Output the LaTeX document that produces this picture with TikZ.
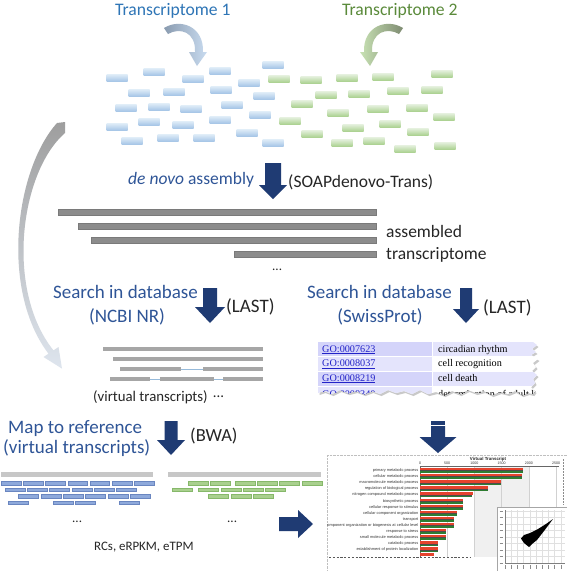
\documentclass[tikz,border=0pt]{standalone}
\usepackage{fontspec}
\setmainfont{Carlito}
\newfontfamily\gofont{Liberation Serif}
\newfontfamily\chartfont{Liberation Sans}
\definecolor{navy}{HTML}{1F3B73}
\definecolor{stepblue}{HTML}{2F5597}
\definecolor{tblue}{HTML}{2E75B6}
\definecolor{tgreen}{HTML}{5A8A3A}
\definecolor{txt}{HTML}{262626}
\definecolor{golink}{HTML}{2323C8}
\definecolor{lavA}{HTML}{D4D4FA}
\definecolor{lavB}{HTML}{E4E4FC}
\definecolor{barred}{HTML}{E5432D}
\definecolor{bargreen}{HTML}{2E7D32}
\definecolor{rbtop}{HTML}{DDEBF7}
\definecolor{rbbot}{HTML}{A4C4E6}
\definecolor{rgtop}{HTML}{E2EFDA}
\definecolor{rgbot}{HTML}{A9D08E}
\definecolor{mbfill}{HTML}{8EA9DB}
\definecolor{mbdraw}{HTML}{6A86C0}
\definecolor{mgfill}{HTML}{A9D08E}
\definecolor{mgdraw}{HTML}{86B86A}
\definecolor{arAtail}{HTML}{8A9BB0}
\definecolor{arAhead}{HTML}{C9DCF0}
\definecolor{arBtail}{HTML}{7F8C72}
\definecolor{arBhead}{HTML}{C8E2B4}
\definecolor{bigtop}{HTML}{9E9E9E}
\definecolor{bigbot}{HTML}{DEE5EE}
\newcommand{\navydown}[6]{%
  \fill[navy] ({#1-#5},#2) -- ({#1+#5},#2) -- ({#1+#5},#3) -- ({#1+#6},#3)
     -- (#1,#4) -- ({#1-#6},#3) -- ({#1-#5},#3) -- cycle;}
\tikzset{
  lbl/.style={inner sep=0pt, anchor=base west, text=txt},
  steplbl/.style={inner sep=0pt, anchor=base west, text=stepblue, font=\fontsize{19}{22}\selectfont},
  readblue/.style={top color=rbtop, bottom color=rbbot},
  readgreen/.style={top color=rgtop, bottom color=rgbot},
  asmbar/.style={fill=black!45, draw=black!52, line width=0.3pt},
  vbar/.style={fill=black!35},
  vline/.style={draw=tblue!50, line width=0.8pt},
  mapblue/.style={fill=mbfill, draw=mbdraw, line width=0.4pt},
  mapgreen/.style={fill=mgfill, draw=mgdraw, line width=0.4pt},
  chartlbl/.style={inner sep=0pt, anchor=east, font=\chartfont\fontsize{3.9}{4.5}\selectfont, text=black!80},
}
\begin{document}
\begin{tikzpicture}[x=1pt,y=-1pt]
\useasboundingbox (0,0) rectangle (567,571);
\fill[white] (0,0) rectangle (567,571);

% ---------- titles ----------
\node[lbl, text=tblue, font=\fontsize{17.6}{20}\selectfont] (t1) at (115,15) {Transcriptome 1};
\node[lbl, text=tgreen, font=\fontsize{17.6}{20}\selectfont] (t2) at (342,15) {Transcriptome 2};

% curved arrows under titles
\shade[left color=arAtail, right color=arAhead]
  (164,28) .. controls (180,18) and (204,26) .. (203,52) -- (207,52) -- (197,66) -- (189,52) -- (195,52)
  .. controls (196,32) and (180,27) .. (168,34) -- cycle;
\shade[left color=arBhead, right color=arBtail]
  (403,28) .. controls (387,18) and (363,26) .. (364,52) -- (360,52) -- (370,66) -- (378,52) -- (372,52)
  .. controls (371,32) and (387,27) .. (399,34) -- cycle;

% reads
\foreach \x/\y in {117/78,154/72,193/79,220/71,273/65,249/83,139/93,174/92,221/90,264/96,126/108,159/107,191/109,232/105,260/115,117/127,149/122,183/125,220/120,247/133,132/141,168/138,204/138,273/143}
  \shade[readblue] (\x-10.5,\y-3.5) rectangle (\x+10.5,\y+3.5);
\foreach \x/\y in {279/79,311/80,347/78,383/77,442/74,326/95,359/94,398/91,432/90,302/104,338/113,378/109,417/108,444/117,290/121,353/128,390/124,418/132,312/134,342/143,374/141,405/149,445/146}
  \shade[readgreen] (\x-10.5,\y-3.5) rectangle (\x+10.5,\y+3.5);

% big left curved arrow
\shade[top color=bigtop, bottom color=bigbot]
  (57,123) .. controls (15,170) and (0,290) .. (48.5,353.7) -- (43.5,357) -- (62,368.6) -- (58.5,347) -- (53.5,350.4)
  .. controls (5,290) and (20,172) .. (65,133) -- (65,122) -- cycle;

% ---------- de novo assembly ----------
\node[lbl, text=stepblue, font=\fontsize{17.5}{20}\selectfont] (denovo) at (128,184) {\textit{de novo} assembly};
\navydown{273}{163}{185}{199}{8}{14}
\node[lbl, font=\fontsize{17.5}{20}\selectfont] (soap) at (288,187) {(SOAPdenovo-Trans)};

\draw[asmbar] (58,209) rectangle (376,215.5) (78,223) rectangle (376,229.5) (91,237) rectangle (376,243.5) (234,251) rectangle (376,257.5);
\node[lbl, font=\fontsize{13}{15}\selectfont] (dots1) at (272,270) {...};
\node[lbl, font=\fontsize{17.5}{20}\selectfont] (asm1) at (386,237) {assembled};
\node[lbl, font=\fontsize{17.5}{20}\selectfont] (asm2) at (386,259) {transcriptome};

% ---------- left search ----------
\node[steplbl] (sdb1) at (53,298) {Search in database};
\node[inner sep=0pt, anchor=base, text=stepblue, font=\fontsize{19}{22}\selectfont] (nr) at (127,322) {(NCBI NR)};
\navydown{210}{288}{307}{323}{7}{15}
\node[lbl, font=\fontsize{19}{22}\selectfont] (last1) at (226,312) {(LAST)};

\fill[vbar] (103,347) rectangle (263,351);
\fill[vbar] (113,357) rectangle (263,361);
\fill[vbar] (120,367) rectangle (181,371);
\fill[vbar] (203,367) rectangle (263,371);
\fill[vbar] (110,377) rectangle (150,381);
\fill[vbar] (160,377) rectangle (214,381);
\fill[vbar] (223,377) rectangle (263,381);
\draw[vline] (181,369) -- (203,369);
\draw[vline] (150,379) -- (160,379);
\draw[vline] (214,379) -- (223,379);
\node[lbl, font=\fontsize{14.8}{17}\selectfont] (vt) at (93,401) {(virtual transcripts)\hspace{0.35em}\raisebox{0.22em}{...}};

% ---------- right search ----------
\node[steplbl] (sdb2) at (307,298) {Search in database};
\node[inner sep=0pt, anchor=base, text=stepblue, font=\fontsize{19}{22}\selectfont] (sp) at (380,322) {(SwissProt)};
\navydown{466}{288}{309}{323}{6}{13}
\node[lbl, font=\fontsize{19}{22}\selectfont] (last2) at (483,313) {(LAST)};

% GO table: shadow
\begin{scope}[shift={(1.5,2)}]
\fill[black!35, opacity=0.6] (318,342) -- (533,342) -- (537,345) -- (532,349) -- (536,352) -- (531,355) -- (538,359) -- (533,363) -- (536,367) -- (532,371) -- (537,375) -- (533,379) -- (535,383) -- (531,387) -- (535,391) -- (533,394)
 -- (528,393) -- (522,395) -- (515,391) -- (508,394) -- (500,392) -- (492,395) -- (484,391) -- (476,393) -- (468,390) -- (460,394) -- (452,391) -- (444,395) -- (436,392) -- (428,394) -- (420,390) -- (412,394) -- (404,391) -- (396,393) -- (388,390) -- (380,394) -- (372,391) -- (364,394) -- (356,391) -- (348,393) -- (340,390) -- (332,394) -- (324,391) -- (318,393) -- cycle;
\end{scope}
\begin{scope}
\clip (318,342) -- (533,342) -- (537,345) -- (532,349) -- (536,352) -- (531,355) -- (538,359) -- (533,363) -- (536,367) -- (532,371) -- (537,375) -- (533,379) -- (535,383) -- (531,387) -- (535,391) -- (533,394)
 -- (528,393) -- (522,395) -- (515,391) -- (508,394) -- (500,392) -- (492,395) -- (484,391) -- (476,393) -- (468,390) -- (460,394) -- (452,391) -- (444,395) -- (436,392) -- (428,394) -- (420,390) -- (412,394) -- (404,391) -- (396,393) -- (388,390) -- (380,394) -- (372,391) -- (364,394) -- (356,391) -- (348,393) -- (340,390) -- (332,394) -- (324,391) -- (318,393) -- cycle;
\fill[white] (318,342) rectangle (540,400);
\fill[lavA] (318,342) rectangle (432,356.5);
\fill[lavB] (432,342) rectangle (540,356.5);
\fill[lavB] (318,356.5) rectangle (432,371);
\fill[lavA] (318,371) rectangle (432,386);
\fill[lavB] (432,371) rectangle (540,386);
\fill[lavB] (318,386) rectangle (432,400);
\draw[white, line width=0.8pt] (318,356.5) -- (540,356.5) (318,371) -- (540,371) (318,386) -- (540,386) (432,342) -- (432,400);
\node[inner sep=0pt, anchor=base west, text=golink, font=\gofont\fontsize{10.2}{12}\selectfont] (go1) at (322,352) {\underline{GO:0007623}};
\node[inner sep=0pt, anchor=base west, text=golink, font=\gofont\fontsize{10.2}{12}\selectfont] (go2) at (322,366.5) {\underline{GO:0008037}};
\node[inner sep=0pt, anchor=base west, text=golink, font=\gofont\fontsize{10.2}{12}\selectfont] (go3) at (322,381) {\underline{GO:0008219}};
\node[inner sep=0pt, anchor=base west, text=golink, font=\gofont\fontsize{10.2}{12}\selectfont] (go4) at (322,397) {\underline{GO:0008340}};
\node[inner sep=0pt, anchor=base west, text=black, font=\gofont\fontsize{10.2}{12}\selectfont] (gt1) at (438,352) {circadian rhythm};
\node[inner sep=0pt, anchor=base west, text=black, font=\gofont\fontsize{10.2}{12}\selectfont] (gt2) at (438,366.5) {cell recognition};
\node[inner sep=0pt, anchor=base west, text=black, font=\gofont\fontsize{10.2}{12}\selectfont] (gt3) at (438,381) {cell death};
\node[inner sep=0pt, anchor=base west, text=black, font=\gofont\fontsize{10.2}{12}\selectfont] (gt4) at (438,397) {determination of adult lifespan};
\end{scope}

% striped arrow
\fill[navy] (431,421) rectangle (445,422.6);
\fill[navy] (431,423.4) rectangle (445,425);
\navydown{438}{426}{437}{453}{7}{18.5}

% ---------- mapping ----------
\node[steplbl] (map1) at (8,433) {Map to reference};
\node[steplbl] (map2) at (3,453) {(virtual transcripts)};
\navydown{171}{421}{440}{455}{6.5}{14}
\node[lbl, font=\fontsize{18.5}{22}\selectfont] (bwa) at (190,441) {(BWA)};

\fill[black!22] (1,472) rectangle (153,477);
\fill[black!22] (168,472) rectangle (321,477);
\foreach \a/\b in {1/21,23/43,45/65,68/87,90/109,112/132,134/154}
  \draw[mapblue] (\a,481.5) rectangle (\b,485);
\foreach \a/\b in {5/25,27/47,49/69,72/92,94/114,116/136}
  \draw[mapblue] (\a,488) rectangle (\b,491.5);
\foreach \a/\b in {18/38,41/61,63/83,85/105,108/128,130/150}
  \draw[mapblue] (\a,494.5) rectangle (\b,498);
\foreach \a/\b in {8/28,53/73,75/95,119/139}
  \draw[mapblue] (\a,501) rectangle (\b,504.5);
\foreach \a/\b in {188/208,210/230,235/255,257/277,279/299,302/322}
  \draw[mapgreen] (\a,481.5) rectangle (\b,485);
\foreach \a/\b in {172/192,198/218,221/241,243/263,265/285}
  \draw[mapgreen] (\a,488) rectangle (\b,491.5);
\foreach \a/\b in {208/228,231/251,253/273}
  \draw[mapgreen] (\a,494.5) rectangle (\b,498);
\node[lbl, font=\fontsize{13}{15}\selectfont] (dots2) at (72,522) {...};
\node[lbl, font=\fontsize{13}{15}\selectfont] (dots3) at (227,522) {...};
\node[lbl, font=\fontsize{12.9}{15}\selectfont] (rcs) at (94,550) {RCs, eRPKM, eTPM};

% right arrow
\fill[navy] (279,517) -- (298,517) -- (298,510) -- (313,524) -- (298,538) -- (298,531) -- (279,531) -- cycle;

% ---------- chart ----------
\begin{scope}
\clip (327,455) rectangle (567,571);
\fill[white] (327,455) rectangle (567,571);
\draw[black!25, densely dotted, line width=0.4pt] (327,455.3) -- (567,455.3) (327.3,455) -- (327.3,571);
\fill[black!6] (475,467) rectangle (529,557);
\foreach \v in {0,1,2,3,4,5}
  \draw[black!18, line width=0.3pt] ({420+27.2*\v},466.5) -- ({420+27.2*\v},557);
\node[inner sep=0pt, font=\chartfont\bfseries\fontsize{4.4}{5}\selectfont, text=black!85] (ctitle) at (488,459) {Virtual Transcript};
\foreach \v/\t in {0/0,1/500,2/1000,3/1500,4/2000,5/2500}
  \node[inner sep=0pt, font=\chartfont\fontsize{3.6}{4}\selectfont, text=black!80] (tk\v) at ({420+27.2*\v},463.5) {\t};
\draw[black!60, line width=0.4pt] (420,466.5) -- (559,466.5);
\draw[black!60, line width=0.4pt] (420,466.5) -- (420,557);
\foreach \i/\r/\g in {0/523/523,1/521.5/521.5,2/501/501,3/488/488,4/472.5/471.5,5/462.5/462.5,6/462.5/462.5,7/457/456.5,8/454/454,9/453.5/453.5,10/445.5/445.5,11/445.5/445.5,12/438/438,13/438/438}{
  \fill[barred] (420,{470.5+6.1*\i-2.5}) rectangle (\r,{470.5+6.1*\i});
  \fill[bargreen] (420,{470.5+6.1*\i}) rectangle (\g,{470.5+6.1*\i+2.5});
  \draw[black!70, line width=0.25pt] (420,{470.5+6.1*\i}) -- (\g,{470.5+6.1*\i});
}
\fill[barred] (420,553) rectangle (434,555.5);
\foreach \i/\lab in {0/primary metabolic process,1/cellular metabolic process,2/macromolecule metabolic process,3/regulation of biological process,4/nitrogen compound metabolic process,5/biosynthetic process,6/cellular response to stimulus,7/cellular component organization,8/transport,9/cellular component organization or biogenesis at cellular level,10/response to stress,11/small molecule metabolic process,12/catabolic process,13/establishment of protein localization}
  \node[chartlbl] (cl\i) at (418.5,{470.5+6.1*\i}) {\lab};
\draw[black!65, line width=0.7pt, dash pattern=on 2.2pt off 1.6pt] (329,557) -- (470,557);
\draw[black!45, line width=0.6pt, dash pattern=on 1.6pt off 1.4pt] (563.5,459) -- (563.5,505);
% inset scatter
\fill[white] (497,507) rectangle (567,571);
\draw[black!35, line width=0.4pt] (497,507) rectangle (567,571);
\foreach \k in {0,...,9}
  \draw[black!12, line width=0.3pt] ({505+6.2*\k},510) -- ({505+6.2*\k},563);
\foreach \k in {0,...,8}
  \draw[black!12, line width=0.3pt] (505,{511+6.5*\k}) -- (565,{511+6.5*\k});
\draw[black!50, line width=0.3pt] (505,510) -- (505,563) -- (565,563);
\foreach \k in {0,...,8}
  \draw[black!45, line width=0.5pt] (499.5,{511+6.5*\k}) -- (503,{511+6.5*\k});
\foreach \k in {0,...,9}
  \draw[black!45, line width=0.5pt] ({505+6.2*\k},565) -- ({505+6.2*\k},569);
\fill[black] (521,538.5) -- (524,543) -- (529,547) -- (532,544) -- (537,540) -- (544,531) -- (553,519) -- (546,524) -- (538,529) -- (530,533) -- (524,535) -- cycle;
\end{scope}
\end{tikzpicture}
\end{document}
